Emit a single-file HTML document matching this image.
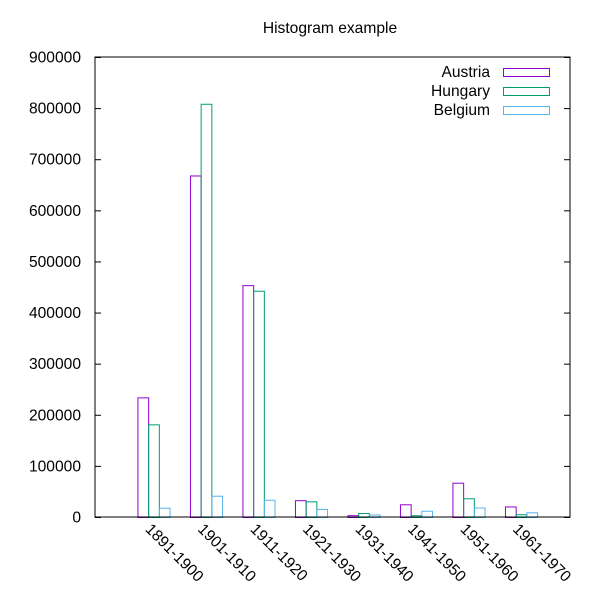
<!DOCTYPE html>
<html><head><meta charset="utf-8"><style>
body{margin:0;background:#fff}
svg{font-family:"Liberation Sans",sans-serif;font-size:15.6px}
</style></head><body>
<svg width="600" height="600">
<rect width="600" height="600" fill="#fff"/>
<text x="330" y="33" text-anchor="middle">Histogram example</text>
<g id="yaxis"></g>
<g id="bars"></g>
<g id="xlabels"></g>
<rect x="95" y="57" width="475" height="460" fill="none" stroke="#000" stroke-width="1"/>
<g id="legend"></g>
</svg>
<script>
const categories=["1891-1900","1901-1910","1911-1920","1921-1930","1931-1940","1941-1950","1951-1960","1961-1970"];
const austria=[234081,668209,453649,32868,3563,24860,67106,20621];
const hungary=[181288,808511,442693,30680,7861,3469,36637,5401];
const belgium=[18167,41635,33746,15846,4817,12189,18575,9192];
const seriesNames=["Austria","Hungary","Belgium"];
const yTicks=[0,100000,200000,300000,400000,500000,600000,700000,800000,900000];
const colors=["#9400d3","#009e73","#56b4e9"];
const NS="http://www.w3.org/2000/svg";
const y0=517,y1=57,yMax=900000;
function ys(v){return y0-(v/yMax)*(y0-y1);}
function xs(i){return 153.5+i*52.5;}
const bw=10.7;
function mk(t,a,p){const e=document.createElementNS(NS,t);for(const k in a)e.setAttribute(k,a[k]);p.appendChild(e);return e;}
const ya=document.getElementById('yaxis');
yTicks.forEach(v=>{const y=ys(v)+0.5;
const l=mk('line',{x1:95,x2:101,y1:y,y2:y,stroke:'#000'},ya);


const r=mk('line',{x1:564,x2:570,y1:y,y2:y,stroke:'#000'},ya);


const t=mk('text',{x:81,y:y+5,'text-anchor':'end'},ya);t.textContent=v;

});
const bg=document.getElementById('bars');
[austria,hungary,belgium].forEach((s,j)=>{s.forEach((v,i)=>{
const x=xs(i)+(j-1.5)*bw;
const r=mk('rect',{x:x+0.5,y:ys(v)+0.5,width:bw,height:y0-ys(v),fill:'none',stroke:colors[j]},bg);

});});
const xl=document.getElementById('xlabels');
categories.forEach((c,i)=>{const x=xs(i)-9,y=530;
const t=mk('text',{x:x,y:y,transform:'rotate(45 '+x+' '+y+')'},xl);t.textContent=c;

});
const lg=document.getElementById('legend');
seriesNames.forEach((n,j)=>{const y=72+j*19;
const t=mk('text',{x:490,y:y+5,'text-anchor':'end'},lg);t.textContent=n;


const r=mk('rect',{x:503.5,y:y-3.5,width:46,height:8,fill:'none',stroke:colors[j]},lg);

});
</script>
</body></html>
